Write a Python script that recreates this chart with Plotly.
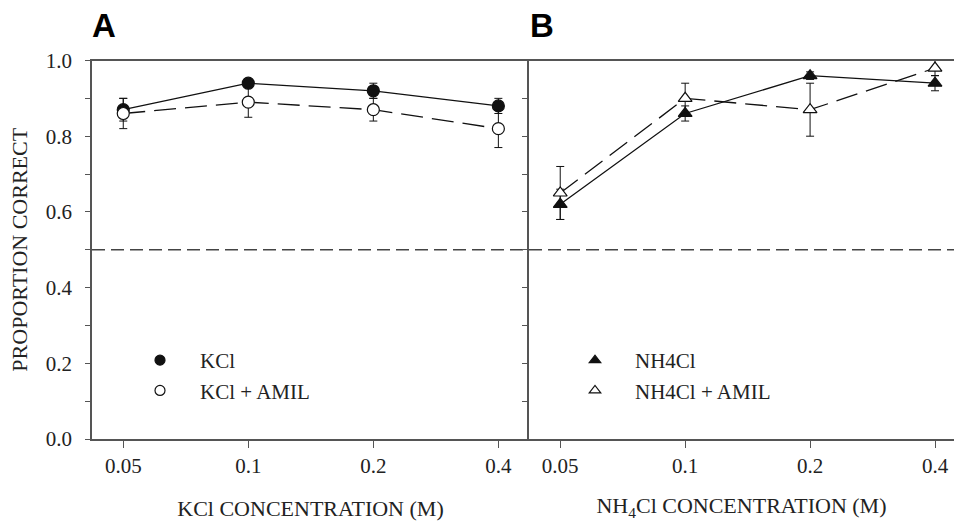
import math
import plotly.graph_objects as go

# ---- data ----
conc = [0.05, 0.1, 0.2, 0.4]
conc_labels = ["0.05", "0.1", "0.2", "0.4"]

kcl = [0.87, 0.94, 0.92, 0.88]
kcl_err = [0.03, 0.01, 0.02, 0.02]
kcl_amil = [0.86, 0.89, 0.87, 0.82]
kcl_amil_err = [0.04, 0.04, 0.03, 0.05]

nh4 = [0.62, 0.86, 0.96, 0.94]
nh4_err = [0.04, 0.02, 0.01, 0.02]
nh4_amil = [0.65, 0.90, 0.87, 0.98]
nh4_amil_err = [0.07, 0.04, 0.07, 0.02]

chance = 0.5

# ---- styling ----
W, H = 954, 521
SERIF = "Liberation Serif, Times New Roman, serif"
SANS = "Liberation Sans, Arial, sans-serif"
AX = "#555555"
LINE = "#111111"

xA = (92 / W, 529 / W)
xB = (529 / W, 1.0)
yD = ((H - 439) / H, (H - 60.5) / H)

lg2 = math.log10(2)
rangeA = [math.log10(0.05) - 0.25 * lg2, math.log10(0.4) + 0.245 * lg2]
rangeB = [math.log10(0.05) - 0.25 * lg2, math.log10(0.4) + 0.152 * lg2]

fig = go.Figure()


def add_series(x, y, err, xa, ya, symbol, fill, dash, name, legend):
    fig.add_trace(go.Scatter(
        x=x, y=y, xaxis=xa, yaxis=ya, mode="lines+markers",
        line=dict(color=LINE, width=1.3, dash=dash),
        marker=dict(symbol=symbol, size=12, color=fill, line=dict(color=LINE, width=1.2)),
        error_y=dict(type="data", array=err, color=LINE, thickness=1, width=4),
        showlegend=False,
    ))
    # legend entry (marker only)
    fig.add_trace(go.Scatter(
        x=[None], y=[None], xaxis=xa, yaxis=ya, mode="markers", name=name,
        marker=dict(symbol=symbol, size=10, color=fill, line=dict(color=LINE, width=1.2)),
        legend=legend, showlegend=True,
    ))


add_series(conc, kcl, kcl_err, "x", "y", "circle", LINE, "solid", "KCl", "legend")
add_series(conc, kcl_amil, kcl_amil_err, "x", "y", "circle", "white", "22px,9px", "KCl + AMIL", "legend")
add_series(conc, nh4, nh4_err, "x2", "y2", "triangle-up", LINE, "solid", "NH4Cl", "legend2")
add_series(conc, nh4_amil, nh4_amil_err, "x2", "y2", "triangle-up", "white", "22px,9px", "NH4Cl + AMIL", "legend2")

# chance line spanning both panels
fig.add_shape(type="line", xref="paper", yref="y", x0=xA[0], x1=1.0, y0=chance, y1=chance,
              line=dict(color="#444444", width=1.5, dash="13px,6px"), layer="below")

xcommon = dict(type="log", tickvals=conc, ticktext=conc_labels, showline=True, linecolor=AX,
               linewidth=1.5, mirror=True, ticks="outside", ticklen=7, tickcolor=AX, tickwidth=1.2,
               showgrid=False, zeroline=False, automargin=False, ticklabelstandoff=0,
               tickfont=dict(family=SERIF, size=21, color="#222"),
               title=dict(font=dict(family=SERIF, size=22, color="#222"), standoff=32))
ycommon = dict(range=[0, 1.0], dtick=0.2, tickformat=".1f", showline=True, linecolor=AX,
               linewidth=1.5, ticks="outside", ticklen=5, tickcolor=AX, tickwidth=1.2,
               minor=dict(dtick=0.1, ticks="outside", ticklen=5, tickcolor=AX),
               showgrid=False, zeroline=False, automargin=False, ticklabelstandoff=9,
               tickfont=dict(family=SERIF, size=21, color="#222"))

legend_common = dict(xanchor="left", yanchor="top", bgcolor="rgba(0,0,0,0)", itemwidth=70,
                     font=dict(family=SERIF, size=21, color="#222"), tracegroupgap=0)

fig.update_layout(
    width=W, height=H, margin=dict(l=0, r=0, t=0, b=0),
    paper_bgcolor="white", plot_bgcolor="white",
    xaxis=dict(xcommon, domain=xA, range=rangeA, anchor="y",
               title=dict(xcommon["title"], text="KCl CONCENTRATION (M)")),
    xaxis2=dict(xcommon, domain=xB, range=rangeB, anchor="y2",
                title=dict(xcommon["title"], text="NH<sub>4</sub>Cl CONCENTRATION (M)")),
    yaxis=dict(ycommon, domain=yD, anchor="x",
               title=dict(text="PROPORTION CORRECT", font=dict(family=SERIF, size=22, color="#222"),
                          standoff=12)),
    yaxis2=dict(ycommon, domain=yD, anchor="x2", showticklabels=False),
    legend=dict(legend_common, x=120 / W, y=(H - 340) / H),
    legend2=dict(legend_common, x=555 / W, y=(H - 340) / H),
    annotations=[
        dict(text="<b>A</b>", xref="paper", yref="paper", x=90 / W, y=(H - 5) / H,
             xanchor="left", yanchor="top", showarrow=False,
             font=dict(family=SANS, size=33, color="black")),
        dict(text="<b>B</b>", xref="paper", yref="paper", x=528 / W, y=(H - 5) / H,
             xanchor="left", yanchor="top", showarrow=False,
             font=dict(family=SANS, size=33, color="black")),
    ],
)

fig.write_html("out.html", config={"displayModeBar": False},
               post_script="document.body.style.margin='0';document.body.style.overflow='hidden';")
